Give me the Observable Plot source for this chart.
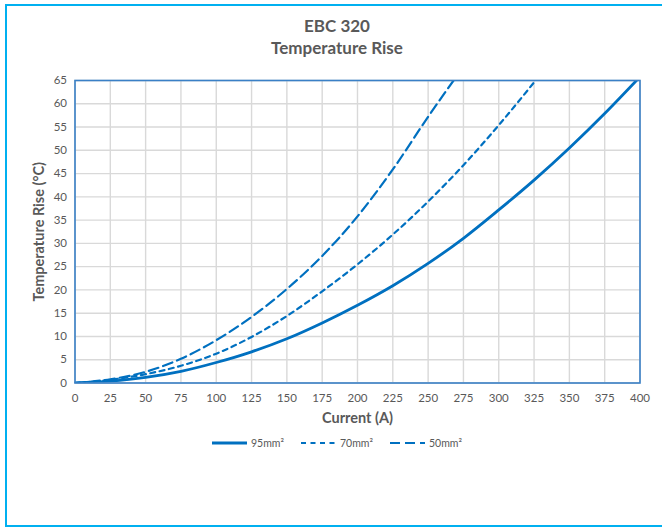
<!DOCTYPE html>
<html>
<head>
<meta charset="utf-8">
<script src="https://cdn.jsdelivr.net/npm/d3@7"></script>
<script src="https://cdn.jsdelivr.net/npm/@observablehq/plot@0.6"></script>
<style>
  html, body { margin: 0; padding: 0; background: #fff; overflow: hidden; }
  #page { position: relative; width: 662px; height: 529px; overflow: hidden; font-family: Lato, "Open Sans", sans-serif; }
  #box { position: absolute; left: 5px; top: 4px; width: 680px; height: 519px; border: 2.5px solid #00b0f0; box-sizing: content-box; }
  #title { position: absolute; left: 0; width: 674px; top: 15px; text-align: center; color: #595959; font-weight: bold; font-size: 17px; line-height: 22px; }
  #chart { position: absolute; left: 0; top: 60px; }
  #legend { position: absolute; top: 435px; left: 0; width: 662px; height: 16px; }
  .item { position: absolute; top: 0; height: 16px; display: flex; align-items: center; font-size: 10.5px; color: #595959; }
  .item svg { margin-right: 4px; }
</style>
</head>
<body>
<div id="page">
  <div id="box"></div>
  <div id="title">EBC 320<br>Temperature Rise</div>
  <div id="chart"></div>
  <div id="legend"></div>
</div>
<script>
// Data
const current95 = [0, 25, 50, 75, 100, 125, 150, 175, 200, 225, 250, 275, 300, 325, 350, 375, 400];
const rise95    = [0, 0.4, 1.2, 2.5, 4.4, 6.7, 9.5, 12.9, 16.7, 20.9, 25.7, 31.1, 37.2, 43.6, 50.5, 57.9, 65.8];
const current70 = [0, 25, 50, 75, 100, 125, 150, 175, 200, 225, 250, 275, 300, 325];
const rise70    = [0, 0.7, 1.9, 3.7, 6.3, 9.9, 14.4, 19.7, 25.5, 31.9, 39.0, 46.8, 55.4, 64.6];
const current50 = [0, 25, 50, 75, 100, 125, 150, 175, 200, 225, 250, 268];
const rise50    = [0, 0.8, 2.4, 5.2, 9.2, 14.2, 20.2, 27.3, 35.8, 45.9, 57.2, 65.0];

const seriesNames = ["95mm²", "70mm²", "50mm²"];
const xTicks = d3.range(0, 401, 25);
const yTicks = d3.range(0, 66, 5);

const lineColor = "#0070c0";
const dashes = {"95mm²": null, "70mm²": "5,4.5", "50mm²": "10,5"};
const widths = {"95mm²": 2.8, "70mm²": 2.2, "50mm²": 2.2};

const rows = [];
current95.forEach((c, i) => rows.push({series: "95mm²", current: c, rise: rise95[i]}));
current70.forEach((c, i) => rows.push({series: "70mm²", current: c, rise: rise70[i]}));
current50.forEach((c, i) => rows.push({series: "50mm²", current: c, rise: rise50[i]}));

const plot = Plot.plot({
  width: 662,
  height: 370,
  marginLeft: 74.5,
  marginRight: 22.5,
  marginTop: 20,
  marginBottom: 47.5,
  style: {fontFamily: "Lato, 'Open Sans', sans-serif", fontSize: "11.5px", color: "#595959", background: "transparent"},
  x: {domain: [0, 400]},
  y: {domain: [0, 65]},
  marks: [
    Plot.gridX(xTicks, {stroke: "#d9d9d9", strokeOpacity: 1, strokeWidth: 1.4}),
    Plot.gridY(yTicks, {stroke: "#d9d9d9", strokeOpacity: 1, strokeWidth: 1.4}),
    Plot.axisX(xTicks, {tickSize: 0, tickPadding: 11, fill: "#595959", fontSize: 11.5,
      label: "Current (A)", labelAnchor: "center", labelArrow: "none", labelOffset: 40}),
    Plot.axisY(yTicks, {tickSize: 0, tickPadding: 8, fill: "#595959", fontSize: 11.5,
      label: "Temperature Rise (°C)", labelAnchor: "center", labelArrow: "none", labelOffset: 41}),
    ...seriesNames.map(name => Plot.line(rows.filter(d => d.series === name), {
      x: "current", y: "rise", stroke: lineColor, strokeWidth: widths[name],
      strokeDasharray: dashes[name], curve: "monotone-x", clip: true
    })),
    Plot.frame({stroke: "#3a80c6", strokeWidth: 1.6})
  ]
});
document.getElementById("chart").appendChild(plot);

// style axis labels bold
d3.select(plot).selectAll("[aria-label='x-axis label'] text, [aria-label='y-axis label'] text")
  .attr("font-weight", "bold").attr("font-size", 14.5).attr("fill", "#595959");

// Legend
const legendItems = [
  {name: seriesNames[0], left: 212},
  {name: seriesNames[1], left: 301},
  {name: seriesNames[2], left: 390}
];
const legend = document.getElementById("legend");
legendItems.forEach(it => {
  const div = document.createElement("div");
  div.className = "item";
  div.style.left = it.left + "px";
  const svg = d3.create("svg").attr("width", 35).attr("height", 16);
  svg.append("line").attr("x1", 0).attr("x2", 35).attr("y1", 8).attr("y2", 8)
    .attr("stroke", lineColor).attr("stroke-width", widths[it.name])
    .attr("stroke-dasharray", dashes[it.name]);
  div.appendChild(svg.node());
  const span = document.createElement("span");
  span.textContent = it.name;
  div.appendChild(span);
  legend.appendChild(div);
});
</script>
</body>
</html>
